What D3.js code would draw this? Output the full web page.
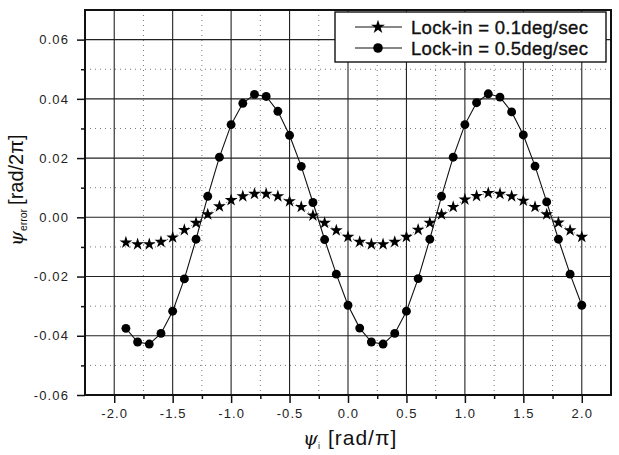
<!DOCTYPE html>
<html>
<head>
<meta charset="utf-8">
<script src="https://cdn.jsdelivr.net/npm/d3@7"></script>
<style>
    body { margin: 0; background: #fff; }
    svg text { font-family: Arial, "Liberation Sans", sans-serif; fill: #111; }
</style>
</head>
<body>
<div id="chart"></div>
<script>
// psi_i in rad/pi
const psiValues = [-1.9, -1.8, -1.7, -1.6, -1.5, -1.4, -1.3, -1.2, -1.1, -1.0,
    -0.9, -0.8, -0.7, -0.6, -0.5, -0.4, -0.3, -0.2, -0.1, 0.0,
    0.1, 0.2, 0.3, 0.4, 0.5, 0.6, 0.7, 0.8, 0.9, 1.0,
    1.1, 1.2, 1.3, 1.4, 1.5, 1.6, 1.7, 1.8, 1.9, 2.0];

// lock-in = 0.1 deg/sec (stars)
const errSlow = [-0.0085, -0.0091, -0.0091, -0.0083, -0.0068, -0.0043, -0.0019, 0.0010, 0.0037, 0.0058,
    0.0071, 0.0079, 0.0079, 0.0071, 0.0054, 0.0035, 0.0006, -0.0019, -0.0044, -0.0066,
    -0.0083, -0.0091, -0.0091, -0.0083, -0.0066, -0.0042, -0.0019, 0.0010, 0.0035, 0.0060,
    0.0072, 0.0082, 0.0079, 0.0071, 0.0056, 0.0035, 0.0010, -0.0018, -0.0044, -0.0066];

// lock-in = 0.5 deg/sec (circles)
const errFast = [-0.0375, -0.0421, -0.0428, -0.0392, -0.0317, -0.0208, -0.0074, 0.0071, 0.0203, 0.0313,
    0.0385, 0.0415, 0.0408, 0.0358, 0.0277, 0.0172, 0.0050, -0.0075, -0.0192, -0.0297,
    -0.0374, -0.0421, -0.0428, -0.0392, -0.0317, -0.0207, -0.0074, 0.0071, 0.0203, 0.0313,
    0.0387, 0.0417, 0.0406, 0.0356, 0.0278, 0.0173, 0.0052, -0.0074, -0.0192, -0.0297];

const seriesNames = ["Lock-in = 0.1deg/sec", "Lock-in = 0.5deg/sec"];

const xTicks = [-2.0, -1.5, -1.0, -0.5, 0.0, 0.5, 1.0, 1.5, 2.0];
const xMinorTicks = [-1.75, -1.25, -0.75, -0.25, 0.25, 0.75, 1.25, 1.75];
const yTicks = [-0.06, -0.04, -0.02, 0.00, 0.02, 0.04, 0.06];
const yMinorTicks = [-0.05, -0.03, -0.01, 0.01, 0.03, 0.05];

// plain hyphen instead of d3's unicode minus
const fmt = spec => d => d3.format(spec)(d).replace("\u2212", "-");

class errorChart {

    constructor(parentElement) {
        this.parentElement = parentElement;
        this.initVis();
    }

    initVis() {
        let vis = this;

        vis.margin = {top: 10, right: 8, bottom: 60, left: 85};
        vis.width = 619 - vis.margin.left - vis.margin.right;
        vis.height = 455 - vis.margin.top - vis.margin.bottom;

        vis.svg = d3.select("#" + vis.parentElement).append("svg")
            .attr("width", 619)
            .attr("height", 455)
            .append("g")
            .attr("transform", "translate(" + vis.margin.left + "," + vis.margin.top + ")");

        vis.x = d3.scaleLinear().domain([-2.25, 2.25]).range([0, vis.width]);
        vis.y = d3.scaleLinear().domain([-0.06, 0.07]).range([vis.height, 0]);

        vis.wrangleData();
    }

    wrangleData() {
        let vis = this;
        vis.displayData = [
            {name: seriesNames[0], symbol: d3.symbolStar, size: 50,
                values: psiValues.map((p, i) => ({x: p, y: errSlow[i]}))},
            {name: seriesNames[1], symbol: d3.symbolCircle, size: 62,
                values: psiValues.map((p, i) => ({x: p, y: errFast[i]}))}
        ];
        vis.updateVis();
    }

    updateVis() {
        let vis = this;

        // minor grid (dotted)
        vis.svg.append("g").selectAll("line")
            .data(xMinorTicks).enter().append("line")
            .attr("x1", d => vis.x(d)).attr("x2", d => vis.x(d))
            .attr("y1", 0).attr("y2", vis.height)
            .attr("stroke", "#777").attr("stroke-width", 1)
            .attr("stroke-dasharray", "1,4");
        vis.svg.append("g").selectAll("line")
            .data(yMinorTicks).enter().append("line")
            .attr("y1", d => vis.y(d)).attr("y2", d => vis.y(d))
            .attr("x1", 0).attr("x2", vis.width)
            .attr("stroke", "#777").attr("stroke-width", 1)
            .attr("stroke-dasharray", "1,4");

        // major grid
        vis.svg.append("g").selectAll("line")
            .data(xTicks).enter().append("line")
            .attr("x1", d => vis.x(d)).attr("x2", d => vis.x(d))
            .attr("y1", 0).attr("y2", vis.height)
            .attr("stroke", "#222").attr("stroke-width", 1.1);
        vis.svg.append("g").selectAll("line")
            .data(yTicks).enter().append("line")
            .attr("y1", d => vis.y(d)).attr("y2", d => vis.y(d))
            .attr("x1", 0).attr("x2", vis.width)
            .attr("stroke", "#222").attr("stroke-width", 1.1);

        // axes
        vis.xAxis = d3.axisBottom(vis.x).tickValues(xTicks)
            .tickFormat(fmt(".1f")).tickSize(8).tickPadding(6);
        vis.xAxisMinor = d3.axisBottom(vis.x).tickValues(xMinorTicks)
            .tickFormat("").tickSize(4);
        vis.yAxis = d3.axisLeft(vis.y).tickValues(yTicks)
            .tickFormat(fmt(".2f")).tickSize(8).tickPadding(8);
        vis.yAxisMinor = d3.axisLeft(vis.y).tickValues(yMinorTicks)
            .tickFormat("").tickSize(4);

        [vis.xAxis, vis.xAxisMinor].forEach(a => {
            vis.svg.append("g").attr("class", "x-axis")
                .attr("transform", "translate(0," + vis.height + ")")
                .call(a);
        });
        [vis.yAxis, vis.yAxisMinor].forEach(a => {
            vis.svg.append("g").attr("class", "y-axis").call(a);
        });
        vis.svg.selectAll(".x-axis path, .y-axis path").remove();
        vis.svg.selectAll(".x-axis line, .y-axis line")
            .attr("stroke", "#111").attr("stroke-width", 1.5);
        vis.svg.selectAll(".x-axis text, .y-axis text")
            .style("font-size", "13px").style("letter-spacing", "1.1px").style("fill", "#222");

        // frame
        vis.svg.append("rect")
            .attr("width", vis.width).attr("height", vis.height)
            .attr("fill", "none").attr("stroke", "#111").attr("stroke-width", 2);

        // series
        vis.line = d3.line().x(d => vis.x(d.x)).y(d => vis.y(d.y));

        vis.svg.append("path")
            .datum(vis.displayData[0].values)
            .attr("d", vis.line)
            .attr("fill", "none").attr("stroke", "#333").attr("stroke-width", 0.8)
            .attr("stroke-dasharray", "1,2.5");
        vis.svg.append("path")
            .datum(vis.displayData[1].values)
            .attr("d", vis.line)
            .attr("fill", "none").attr("stroke", "#111").attr("stroke-width", 1.1);

        vis.displayData.forEach(function(s) {
            vis.svg.append("g").selectAll("path")
                .data(s.values).enter().append("path")
                .attr("d", d3.symbol().type(s.symbol).size(s.size))
                .attr("transform", d => "translate(" + vis.x(d.x) + "," + vis.y(d.y) + ")")
                .attr("fill", "#000");
        });

        // legend
        let lx = 335 - vis.margin.left, ly = 12 - vis.margin.top;
        let legend = vis.svg.append("g").attr("transform", "translate(" + lx + "," + ly + ")");
        legend.append("rect")
            .attr("width", 271).attr("height", 50)
            .attr("fill", "#fff").attr("stroke", "#111").attr("stroke-width", 1.4);
        vis.displayData.forEach(function(s, i) {
            let g = legend.append("g").attr("transform", "translate(0," + (15 + i * 21) + ")");
            g.append("line").attr("x1", 20).attr("x2", 67)
                .attr("stroke", "#111").attr("stroke-width", 1.1);
            g.append("path").attr("d", d3.symbol().type(s.symbol).size(s.size + 10))
                .attr("transform", "translate(43,0)").attr("fill", "#000");
            g.append("text").attr("x", 76).attr("y", 0).attr("dy", "0.36em")
                .style("font-size", "18.5px").style("letter-spacing", "0.3px")
                .style("stroke", "#111").style("stroke-width", 0.35)
                .text(s.name);
        });

        // axis titles
        let xt = vis.svg.append("text")
            .attr("x", 303 - vis.margin.left).attr("y", vis.height + 50)
            .style("font-size", "21px");
        xt.append("tspan").style("font-style", "italic").style("font-family", "'DejaVu Serif', serif")
            .style("font-size", "19px").text("ψ");
        xt.append("tspan").attr("dy", 4).style("font-size", "9px").text("i");
        xt.append("tspan").attr("dy", -4).attr("dx", 8).style("letter-spacing", "1px").text("[rad/π]");

        let yt = vis.svg.append("text")
            .attr("transform", "translate(" + (-62) + "," + (246 - vis.margin.top) + ") rotate(-90)")
            .style("font-size", "20px");
        yt.append("tspan").style("font-style", "italic").style("font-family", "'DejaVu Serif', serif")
            .style("font-size", "19px").text("ψ");
        yt.append("tspan").attr("dy", 4).style("font-size", "10.5px").text("error");
        yt.append("tspan").attr("dy", -4).attr("dx", 4).text("[rad/2π]");
    }
}

new errorChart("chart");
</script>
</body>
</html>
